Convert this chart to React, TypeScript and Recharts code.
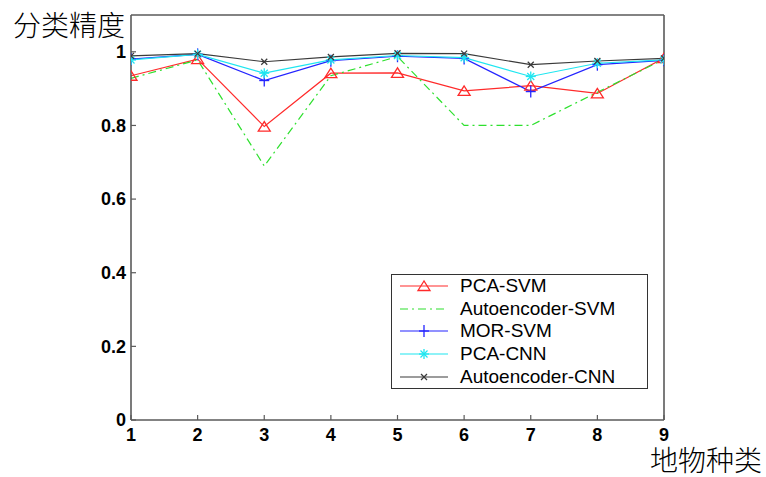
import React from 'react';
import { LineChart, Line, XAxis, YAxis, Legend } from 'recharts';

// land-cover class index (x) and classification accuracy per method
const classes = [1, 2, 3, 4, 5, 6, 7, 8, 9];
const pcaSvm = [0.935, 0.98, 0.797, 0.942, 0.943, 0.894, 0.908, 0.887, 0.983];
const autoencoderSvm = [0.928, 0.978, 0.69, 0.935, 0.987, 0.8, 0.8, 0.89, 0.98];
const morSvm = [0.98, 0.993, 0.922, 0.976, 0.988, 0.982, 0.892, 0.965, 0.977];
const pcaCnn = [0.978, 0.993, 0.942, 0.978, 0.99, 0.984, 0.933, 0.969, 0.978];
const autoencoderCnn = [0.989, 0.995, 0.973, 0.986, 0.996, 0.995, 0.965, 0.975, 0.982];
const yTicks = [0, 0.2, 0.4, 0.6, 0.8, 1];

const data = classes.map((c, i) => ({
  cls: c,
  pcaSvm: pcaSvm[i],
  autoencoderSvm: autoencoderSvm[i],
  morSvm: morSvm[i],
  pcaCnn: pcaCnn[i],
  autoencoderCnn: autoencoderCnn[i],
}));

const AXIS = '#5a5a5a';
const TICK_FONT = { fill: '#000', fontSize: 18, fontWeight: 'bold', fontFamily: '"Liberation Sans", Arial, sans-serif' };

type MarkerProps = { cx: number; cy: number; color: string };

const Triangle = ({ cx, cy, color }: MarkerProps) => (
  <polygon
    points={`${cx},${cy - 5} ${cx - 6},${cy + 4.5} ${cx + 6},${cy + 4.5}`}
    fill="none"
    stroke={color}
    strokeWidth={1.3}
  />
);

const Plus = ({ cx, cy, color }: MarkerProps) => (
  <g stroke={color} strokeWidth={1.3}>
    <line x1={cx - 5} y1={cy} x2={cx + 5} y2={cy} />
    <line x1={cx} y1={cy - 6} x2={cx} y2={cy + 6} />
  </g>
);

const Star = ({ cx, cy, color }: MarkerProps) => (
  <g stroke={color} strokeWidth={1.3}>
    <line x1={cx - 5} y1={cy} x2={cx + 5} y2={cy} />
    <line x1={cx} y1={cy - 5} x2={cx} y2={cy + 5} />
    <line x1={cx - 3.5} y1={cy - 3.5} x2={cx + 3.5} y2={cy + 3.5} />
    <line x1={cx - 3.5} y1={cy + 3.5} x2={cx + 3.5} y2={cy - 3.5} />
  </g>
);

const Cross = ({ cx, cy, color }: MarkerProps) => (
  <g stroke={color} strokeWidth={1.2}>
    <line x1={cx - 3} y1={cy - 3} x2={cx + 3} y2={cy + 3} />
    <line x1={cx - 3} y1={cy + 3} x2={cx + 3} y2={cy - 3} />
  </g>
);

const series = [
  { key: 'pcaSvm', name: 'PCA-SVM', color: '#ff2a2a', dash: undefined, Marker: Triangle },
  { key: 'autoencoderSvm', name: 'Autoencoder-SVM', color: '#2ee02e', dash: '8 4 2 4', Marker: null },
  { key: 'morSvm', name: 'MOR-SVM', color: '#2424ff', dash: undefined, Marker: Plus },
  { key: 'pcaCnn', name: 'PCA-CNN', color: '#1ee6f0', dash: undefined, Marker: Star },
  { key: 'autoencoderCnn', name: 'Autoencoder-CNN', color: '#3a3a3a', dash: undefined, Marker: Cross },
];

const LegendBox = () => (
  <div
    style={{
      width: 255,
      height: 113,
      border: '1px solid #333',
      background: '#fff',
      fontFamily: '"Liberation Sans", Arial, sans-serif',
      fontSize: 19,
      color: '#000',
    }}
  >
    {series.map((s) => (
      <div key={s.key} style={{ height: 22.6, display: 'flex', alignItems: 'center' }}>
        <svg width={48} height={22} style={{ marginLeft: 8, marginRight: 12, overflow: 'visible' }}>
          <line x1={0} y1={11} x2={48} y2={11} stroke={s.color} strokeWidth={1.2} strokeDasharray={s.dash} />
          {s.Marker ? <s.Marker cx={24} cy={11} color={s.color} /> : null}
        </svg>
        <span style={{ lineHeight: '22px' }}>{s.name}</span>
      </div>
    ))}
  </div>
);

export default function App() {
  return (
    <div style={{ position: 'absolute', left: 0, top: 0, width: 766, height: 477, background: '#fff' }}>
      <LineChart width={766} height={477} data={data} margin={{ top: 14, right: 101, bottom: 56, left: 130 }}>
        <XAxis
          xAxisId="b"
          dataKey="cls"
          type="number"
          domain={[1, 9]}
          ticks={classes}
          interval={0}
          height={1}
          allowDataOverflow
          tickSize={-5}
          tickMargin={13}
          axisLine={{ stroke: AXIS, strokeWidth: 1.6 }}
          tickLine={{ stroke: AXIS, strokeWidth: 1.2 }}
          tick={TICK_FONT}
        />
        <XAxis
          xAxisId="t"
          orientation="top"
          dataKey="cls"
          type="number"
          domain={[1, 9]}
          ticks={classes}
          interval={0}
          height={1}
          allowDataOverflow
          tickSize={-5}
          axisLine={{ stroke: AXIS, strokeWidth: 1.6 }}
          tickLine={{ stroke: AXIS, strokeWidth: 1.2 }}
          tick={false}
        />
        <YAxis
          yAxisId="l"
          type="number"
          domain={[0, 1.1]}
          ticks={yTicks}
          interval={0}
          width={1}
          allowDataOverflow
          tickSize={-5}
          tickMargin={10}
          axisLine={{ stroke: AXIS, strokeWidth: 1.6 }}
          tickLine={{ stroke: AXIS, strokeWidth: 1.2 }}
          tick={TICK_FONT}
        />
        <YAxis
          yAxisId="r"
          orientation="right"
          type="number"
          domain={[0, 1.1]}
          ticks={yTicks}
          interval={0}
          width={1}
          allowDataOverflow
          tickSize={-5}
          axisLine={{ stroke: AXIS, strokeWidth: 1.6 }}
          tickLine={{ stroke: AXIS, strokeWidth: 1.2 }}
          tick={false}
        />
        {series.map((s) => (
          <Line
            key={s.key}
            xAxisId="b"
            yAxisId="l"
            type="linear"
            dataKey={s.key}
            name={s.name}
            stroke={s.color}
            strokeWidth={1.2}
            strokeDasharray={s.dash}
            isAnimationActive={false}
            dot={
              s.Marker
                ? (p: any) => {
                    const M = s.Marker as any;
                    return <M key={`${s.key}-${p.index}`} cx={p.cx} cy={p.cy} color={s.color} />;
                  }
                : false
            }
            activeDot={false}
          />
        ))}
        <Legend
          layout="vertical"
          align="center"
          verticalAlign="middle"
          wrapperStyle={{ left: 391, top: 274, width: 257, height: 115 }}
          content={() => <LegendBox />}
        />
      </LineChart>
      <div
        style={{
          position: 'absolute',
          left: 13,
          top: 10,
          fontSize: 28,
          lineHeight: '28px',
          fontWeight: 300,
          fontFamily: '"Noto Sans CJK SC", sans-serif',
          color: '#000',
        }}
      >
        分类精度
      </div>
      <div
        style={{
          position: 'absolute',
          left: 650,
          top: 445,
          fontSize: 28,
          lineHeight: '28px',
          fontWeight: 300,
          fontFamily: '"Noto Sans CJK SC", sans-serif',
          color: '#000',
        }}
      >
        地物种类
      </div>
    </div>
  );
}
